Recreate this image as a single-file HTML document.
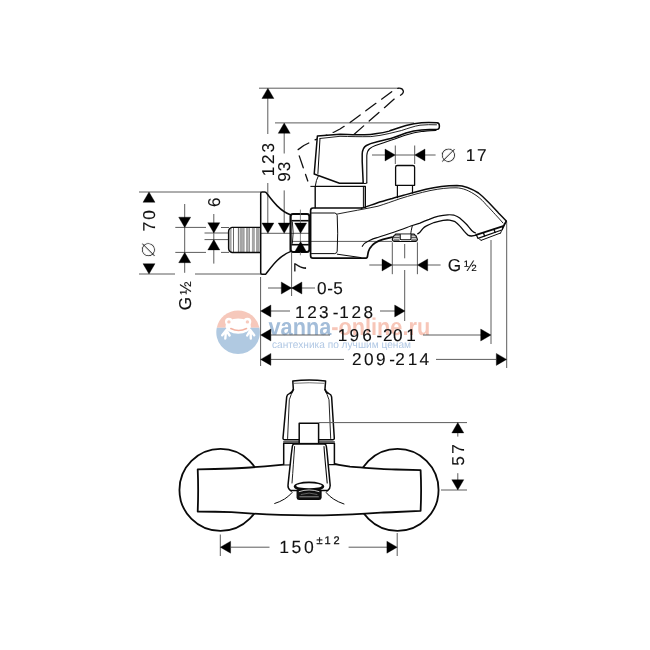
<!DOCTYPE html>
<html lang="ru">
<head>
<meta charset="utf-8">
<title>Смеситель — схема с размерами</title>
<style>
html,body{margin:0;padding:0;background:#fff;}
body{width:650px;height:650px;overflow:hidden;}
svg{display:block;will-change:transform;}
svg text{font-family:"Liberation Sans",sans-serif;text-rendering:geometricPrecision;}
</style>
</head>
<body>
<svg width="650" height="650" viewBox="0 0 650 650">
<rect width="650" height="650" fill="#fff"/>
<g id="wm">
<path d="M216.77,327.8 A21.8,21.8 0 0 1 259.43,327.8 Z" fill="#f6c8bb"/>
<path d="M216.77,327.8 A21.8,21.8 0 1 0 259.43,327.8 Z" fill="#b0c9e1"/>
<g fill="#fff"><ellipse cx="238.2" cy="326.2" rx="12.6" ry="7.6"/><circle cx="228.9" cy="321.6" r="3.9"/><circle cx="247.4" cy="321.6" r="3.9"/></g>
<g stroke="#fff" stroke-width="2.4" stroke-linecap="round" fill="none"><path d="M226.4,330 L222.2,335.3 M226,331 L225.3,338.5 M226.8,331 L229.6,335.5"/><path d="M250.2,330 L254.2,335.3 M250.6,331 L250.8,338.5 M249.8,331 L247.2,335.5"/></g>
<circle cx="228.9" cy="321.9" r="1.7" fill="#f7cabd"/><circle cx="247.4" cy="321.9" r="1.7" fill="#f7cabd"/>
<path d="M230.8,328.5 Q238.6,332.4 246.5,328.5" stroke="#f3b3a3" stroke-width="1.6" fill="none" stroke-linecap="round"/>
<text x="268.5" y="335" font-size="24.3" font-weight="bold" textLength="161.7" lengthAdjust="spacingAndGlyphs"><tspan fill="#a3bdd9">vanna</tspan><tspan fill="#f7c6b8">-online.ru</tspan></text>
<text x="272" y="348.3" font-size="10.5" fill="#b1c8e4" textLength="139" lengthAdjust="spacingAndGlyphs">сантехника по лучшим ценам</text>
</g>
<line x1="259" y1="88.2" x2="399" y2="88.2" stroke="#5c5c5c" stroke-width="1.0" />
<line x1="275" y1="122.9" x2="414" y2="122.9" stroke="#5c5c5c" stroke-width="1.0" />
<line x1="267.8" y1="97" x2="267.8" y2="134" stroke="#5c5c5c" stroke-width="1.0" />
<line x1="267.8" y1="183" x2="267.8" y2="224" stroke="#5c5c5c" stroke-width="1.0" />
<text transform="rotate(-90)" x="-176.19 -163.98 -152.43" y="273.60" font-size="17.2" fill="#111" stroke="#111" stroke-width="0.1">123</text>
<line x1="284.2" y1="132" x2="284.2" y2="153.5" stroke="#5c5c5c" stroke-width="1.0" />
<line x1="284.2" y1="190.4" x2="284.2" y2="224" stroke="#5c5c5c" stroke-width="1.0" />
<text transform="rotate(-90)" x="-181.78 -171.23" y="289.50" font-size="17.2" fill="#111" stroke="#111" stroke-width="0.1">93</text>
<line x1="139" y1="192" x2="261" y2="192" stroke="#5c5c5c" stroke-width="1.0" />
<line x1="139" y1="274" x2="175" y2="274" stroke="#5c5c5c" stroke-width="1.0" />
<line x1="195" y1="274" x2="261" y2="274" stroke="#5c5c5c" stroke-width="1.0" />
<text transform="rotate(-90)" x="-231.29 -219.78" y="154.50" font-size="17.2" fill="#111" stroke="#111" stroke-width="0.1">70</text>
<text transform="translate(148.8 249.6) rotate(-90)" x="0" y="6.62" text-anchor="middle" font-size="26.7" style="font-family:'DejaVu Sans',sans-serif" fill="#2e2e2e" stroke="#fff" stroke-width="0.9">⌀</text>
<line x1="184.7" y1="204" x2="184.7" y2="272.8" stroke="#5c5c5c" stroke-width="1.0" />
<line x1="175.3" y1="227.4" x2="206" y2="227.4" stroke="#5c5c5c" stroke-width="1.0" />
<line x1="175.3" y1="252.4" x2="206" y2="252.4" stroke="#5c5c5c" stroke-width="1.0" />
<text transform="rotate(-90)" x="-310.18" y="190.70" font-size="17.2" fill="#111" stroke="#111" stroke-width="0.1">G</text>
<text transform="rotate(-90)" x="-294.68" y="190.70" font-size="16" fill="#111" stroke="#111" stroke-width="0.1">½</text>
<line x1="213.8" y1="214" x2="213.8" y2="263.6" stroke="#5c5c5c" stroke-width="1.0" />
<line x1="204.5" y1="233" x2="229" y2="233" stroke="#5c5c5c" stroke-width="1.0" />
<line x1="204.5" y1="239.6" x2="229" y2="239.6" stroke="#5c5c5c" stroke-width="1.0" />
<line x1="221" y1="227.5" x2="229" y2="227.5" stroke="#5c5c5c" stroke-width="1.0" />
<line x1="221" y1="252.4" x2="229" y2="252.4" stroke="#5c5c5c" stroke-width="1.0" />
<text transform="rotate(-90)" x="-206.94" y="219.70" font-size="17.2" fill="#111" stroke="#111" stroke-width="0.1">6</text>
<line x1="261" y1="233.3" x2="309" y2="233.3" stroke="#5c5c5c" stroke-width="1.0" />
<line x1="292" y1="241.4" x2="392" y2="241.4" stroke="#5c5c5c" stroke-width="1.0" />
<text transform="rotate(-90)" x="-272.09" y="305.90" font-size="17.2" fill="#111" stroke="#111" stroke-width="0.1">7</text>
<line x1="268" y1="288" x2="315" y2="288" stroke="#5c5c5c" stroke-width="1.0" />
<line x1="291.6" y1="253" x2="291.6" y2="296" stroke="#5c5c5c" stroke-width="1.0" />
<text x="317.02 327.14 333.13" y="293.90" font-size="17.2" fill="#111" stroke="#111" stroke-width="0.1">0-5</text>
<line x1="260.6" y1="277" x2="260.6" y2="366" stroke="#5c5c5c" stroke-width="1.0" />
<line x1="271" y1="311" x2="290" y2="311" stroke="#5c5c5c" stroke-width="1.0" />
<line x1="380" y1="311" x2="395" y2="311" stroke="#5c5c5c" stroke-width="1.0" />
<text x="295.11 307.22 319.07 332.64 339.31 351.42 363.42" y="317.50" font-size="17.2" fill="#111" stroke="#111" stroke-width="0.1">123-128</text>
<line x1="271" y1="335" x2="330" y2="335" stroke="#5c5c5c" stroke-width="1.0" />
<line x1="423" y1="335" x2="481" y2="335" stroke="#5c5c5c" stroke-width="1.0" />
<text x="337.81 349.42 362.26 376.44 383.12 392.92 406.21" y="341.00" font-size="17.2" fill="#111" stroke="#111" stroke-width="0.1">196-201</text>
<line x1="271" y1="359.4" x2="344" y2="359.4" stroke="#5c5c5c" stroke-width="1.0" />
<line x1="436" y1="359.4" x2="496" y2="359.4" stroke="#5c5c5c" stroke-width="1.0" />
<text x="351.92 364.12 376.12 389.14 395.22 407.71 419.47" y="364.90" font-size="17.2" fill="#111" stroke="#111" stroke-width="0.1">209-214</text>
<line x1="404.7" y1="244" x2="404.7" y2="258.3" stroke="#5c5c5c" stroke-width="1.0" />
<line x1="404.7" y1="270" x2="404.7" y2="321" stroke="#5c5c5c" stroke-width="1.0" />
<line x1="491" y1="240" x2="491" y2="344" stroke="#5c5c5c" stroke-width="1.0" />
<line x1="506.7" y1="221.5" x2="506.7" y2="368" stroke="#5c5c5c" stroke-width="1.0" />
<line x1="372" y1="155" x2="385" y2="155" stroke="#5c5c5c" stroke-width="1.0" />
<line x1="425" y1="155" x2="435.6" y2="155" stroke="#5c5c5c" stroke-width="1.0" />
<line x1="395" y1="155" x2="415" y2="155" stroke="#5c5c5c" stroke-width="1.0" />
<line x1="395.3" y1="145.5" x2="395.3" y2="164" stroke="#5c5c5c" stroke-width="1.0" />
<line x1="414.7" y1="145.5" x2="414.7" y2="164" stroke="#5c5c5c" stroke-width="1.0" />
<text transform="translate(448.5 155.3) rotate(0)" x="0" y="6.73" text-anchor="middle" font-size="27.1" style="font-family:'DejaVu Sans',sans-serif" fill="#2e2e2e" stroke="#fff" stroke-width="0.9">⌀</text>
<text x="465.71 477.01" y="160.70" font-size="17.2" fill="#111" stroke="#111" stroke-width="0.1">17</text>
<line x1="369.3" y1="265" x2="383" y2="265" stroke="#5c5c5c" stroke-width="1.0" />
<line x1="427" y1="265" x2="440.6" y2="265" stroke="#5c5c5c" stroke-width="1.0" />
<line x1="392.3" y1="265" x2="417.5" y2="265" stroke="#5c5c5c" stroke-width="1.0" />
<line x1="392.3" y1="242.3" x2="392.3" y2="274.2" stroke="#5c5c5c" stroke-width="1.0" />
<line x1="417.4" y1="242.3" x2="417.4" y2="274.2" stroke="#5c5c5c" stroke-width="1.0" />
<text x="447.72" y="270.70" font-size="17.2" fill="#111" stroke="#111" stroke-width="0.1">G</text>
<text x="464.06" y="270.70" font-size="15.2" fill="#111" stroke="#111" stroke-width="0.1">½</text>
<rect x="229.6" y="227.6" width="2.0" height="24.8" fill="#a4a4a4"/>
<rect x="239.6" y="227.6" width="3.3" height="24.8" fill="#a4a4a4"/>
<rect x="246" y="227.6" width="2.3" height="24.8" fill="#a4a4a4"/>
<rect x="251.9" y="227.6" width="1.3" height="24.8" fill="#a4a4a4"/>
<rect x="256" y="227.6" width="2.0" height="24.8" fill="#a4a4a4"/>
<line x1="233.5" y1="228" x2="233.5" y2="252" stroke="#333" stroke-width="0.75" />
<line x1="238.4" y1="228" x2="238.4" y2="252" stroke="#333" stroke-width="0.75" />
<line x1="243.9" y1="228" x2="243.9" y2="252" stroke="#333" stroke-width="0.75" />
<line x1="249.2" y1="228" x2="249.2" y2="252" stroke="#333" stroke-width="0.75" />
<line x1="254" y1="228" x2="254" y2="252" stroke="#333" stroke-width="0.75" />
<line x1="258.9" y1="228" x2="258.9" y2="252" stroke="#333" stroke-width="0.75" />
<path d="M260.4,227.4 L232,227.4 Q228.6,228.2 228.6,231.6 L228.6,248.2 Q228.6,251.6 232,252.5 L260.4,252.5" stroke="#0a0a0a" stroke-width="1.4" fill="none" stroke-linejoin="round" stroke-linecap="round" />
<path d="M260.7,193.5 Q260.7,192 262,192 L264.6,192 Q265.5,192 266,192.4 C271.5,199.5 279,210.5 290.4,214.8 L290.4,251.6 C279,255.9 271.5,266.9 266,273.8 Q265.5,274.2 264.6,274.2 L262,274.2 Q260.7,274.2 260.7,272.7 Z" stroke="#0a0a0a" stroke-width="1.5" fill="none" stroke-linejoin="round" stroke-linecap="round" />
<path d="M293,214 L307,214 Q309.3,214 309.3,216.4 L309.3,249.6 Q309.3,252 307,252 L293,252 Q290.7,252 290.7,249.6 L290.7,216.4 Q290.7,214 293,214 Z" stroke="#0a0a0a" stroke-width="1.9" fill="none" stroke-linejoin="round" stroke-linecap="round" />
<line x1="291.4" y1="220.7" x2="308.8" y2="220.7" stroke="#0a0a0a" stroke-width="1.6" />
<line x1="291.4" y1="244.7" x2="308.8" y2="244.7" stroke="#0a0a0a" stroke-width="1.6" />
<path d="M292.4,222 Q294,232.7 292.4,243.4" stroke="#0a0a0a" stroke-width="0.9" fill="none" stroke-linejoin="round" stroke-linecap="round" />
<line x1="300.4" y1="209.6" x2="300.4" y2="255.3" stroke="#666" stroke-width="0.8" />
<path d="M361.5,208 L313,208 Q310.6,208 310.6,210.6 L310.6,255.8 Q310.6,258.2 313,258.2 L365,258.2 Q367.2,258.2 367.5,256.3 C367.8,254.5 368,253 368.5,251.2 C369.3,249 370.3,247.3 371.8,245.8 C372.8,244.7 373.8,243.8 375,243 C377.5,241.4 380,240.3 383,239.4 L392.3,237.2" stroke="#0a0a0a" stroke-width="1.7" fill="none" stroke-linejoin="round" stroke-linecap="round" />
<path d="M337.3,254.2 L361,257.6" stroke="#0a0a0a" stroke-width="1.0" fill="none" stroke-linejoin="round" stroke-linecap="round" />
<path d="M311.5,213 L334.8,213 Q337,213.3 337.2,215.5 Q338.2,233 337.2,251.2 Q337,253.3 334.8,253.6 L311.5,253.6" stroke="#0a0a0a" stroke-width="1.0" fill="none" stroke-linejoin="round" stroke-linecap="round" />
<path d="M361.5,208.2 C366,207.2 371,205 377,203 C382,201.4 387,200 392.3,198.5 C397,197.1 401,196 406,194.6 C412,192.9 419,191 426,189.2 C436,186.8 446,185.5 457,185.4 C463,185.5 470,187.5 478.5,193 C483,196.5 486,199.8 489.2,203 C493,207 496,210.3 498.5,213 C502,216.5 504,218.6 506.3,221 L502.6,228.5" stroke="#0a0a0a" stroke-width="1.5" fill="none" stroke-linejoin="round" stroke-linecap="round" />
<path d="M337.5,214 C350,211.5 365,209 378,206.2 C385,204 392,201.5 400,198.7 C410,195.5 420,192.8 430,190.6 C440,188.6 448,187.7 456,187.8 C463,188 469,190.5 477,196 C481,199 484,202 486,204.6 C490,208.5 493,212 495.4,214.6 C498,217.5 501,220.5 503,223" stroke="#0a0a0a" stroke-width="0.9" fill="none" stroke-linejoin="round" stroke-linecap="round" />
<path d="M362.3,246.3 C364,243.5 366,242 368.5,241 C372,239.3 374,238.5 377,237.7 C385,235 392,233 400,230 C404,228.6 407,227.4 410.8,226 L420,223.1 C423,221.8 426,220.6 429.2,219.4 C432,218.2 435,217 438.5,216.2 C441.5,215.4 444.5,214.9 447.7,214.8 C450,214.7 452.2,214.7 454.2,215.2 C456.2,215.8 458,216.6 459.7,218 C462,220 464,221.8 466.2,224 C468,226 470,228.6 471.7,230.5 C473,231.8 474,232.6 475.4,232.8" stroke="#0a0a0a" stroke-width="1.2" fill="none" stroke-linejoin="round" stroke-linecap="round" />
<path d="M417.7,233.8 C419.5,233 421,231.2 422.8,228.6 C424,227.2 425,226.6 426.5,225.9 C429,224.4 431.5,223.5 433.9,222.6 C437,221.6 440,220.8 443.1,220.3 C445.3,220 447.4,219.9 449.5,220.1 C451.5,220.4 453.3,220.8 455.1,221.7 C456.8,222.8 458.2,224.2 459.7,225.9 C461.3,227.6 462.8,229.5 464.3,231.4 C465.5,232.8 466.7,234.2 468,235.1 C469.2,235.8 470.4,236.1 471.7,236 C473.2,235.9 474.7,235.6 476.3,235.1" stroke="#0a0a0a" stroke-width="1.3" fill="none" stroke-linejoin="round" stroke-linecap="round" />
<path d="M503.2,226.2 L476.2,234.8" stroke="#0a0a0a" stroke-width="1.9" fill="none" stroke-linejoin="round" stroke-linecap="round" />
<path d="M506.3,221.2 L503.2,226.4" stroke="#0a0a0a" stroke-width="1.3" fill="none" stroke-linejoin="round" stroke-linecap="round" />
<path d="M476.4,235 L478,238.4 L502.4,229.8 L502.8,226.6" stroke="#0a0a0a" stroke-width="1.2" fill="none" stroke-linejoin="round" stroke-linecap="round" />
<path d="M481.2,240.3 L500.6,233" stroke="#0a0a0a" stroke-width="1.0" fill="none" stroke-linejoin="round" stroke-linecap="round" />
<path d="M479.5,239.2 L481.2,240.3 M500.6,233 L501.6,230.6" stroke="#0a0a0a" stroke-width="0.9" fill="none" stroke-linejoin="round" stroke-linecap="round" />
<path d="M483.4,232.8 L484.6,236 M494,229.4 L495.2,232.4" stroke="#0a0a0a" stroke-width="1.3" fill="none" stroke-linejoin="round" stroke-linecap="round" />
<path d="M412.3,226 C411.5,229 411,231.5 410.8,233.8" stroke="#0a0a0a" stroke-width="1.0" fill="none" stroke-linejoin="round" stroke-linecap="round" />
<path d="M395.6,234.2 L414.2,234.2 Q416.4,235.6 417.4,239.4 Q417.2,241.2 415.6,241.5 L394.2,241.5 Q392.5,241.2 392.3,239.4 Q393.4,235.6 395.6,234.2 Z" stroke="#0a0a0a" stroke-width="1.2" fill="#fff" stroke-linejoin="round" stroke-linecap="round" />
<line x1="393.6" y1="235.8" x2="399.6" y2="235.8" stroke="#333" stroke-width="0.8" />
<line x1="411.2" y1="235.8" x2="416.6" y2="235.8" stroke="#333" stroke-width="0.8" />
<line x1="393.6" y1="237.5" x2="399.6" y2="237.5" stroke="#333" stroke-width="0.8" />
<line x1="411.2" y1="237.5" x2="416.6" y2="237.5" stroke="#333" stroke-width="0.8" />
<line x1="393.6" y1="239.2" x2="399.6" y2="239.2" stroke="#333" stroke-width="0.8" />
<line x1="411.2" y1="239.2" x2="416.6" y2="239.2" stroke="#333" stroke-width="0.8" />
<line x1="393.6" y1="240.6" x2="399.6" y2="240.6" stroke="#333" stroke-width="0.8" />
<line x1="411.2" y1="240.6" x2="416.6" y2="240.6" stroke="#333" stroke-width="0.8" />
<path d="M400.2,234.6 L400.2,238.6 Q400.2,239.8 401.4,239.8 L409.8,239.8 Q411,239.8 411,238.6 L411,234.6" stroke="#0a0a0a" stroke-width="1.1" fill="#fff" stroke-linejoin="round" stroke-linecap="round" />
<path d="M391.7,91.7 L349.2,123.1 L340,129 L334.3,132 L314,140.3 L303.8,145.5 L297.3,150.2 L307.8,181" stroke="#111" stroke-width="1.3" fill="none" stroke-linejoin="round" stroke-linecap="round" stroke-dasharray="12.6 7" stroke-linecap="butt"/>
<path d="M394.2,99.1 L354.2,134.2" stroke="#111" stroke-width="1.3" fill="none" stroke-linejoin="round" stroke-linecap="round" stroke-dasharray="13 7.3" stroke-linecap="butt"/>
<path d="M397.8,88.3 Q402.4,87.6 403.4,91.2 Q403.7,93.6 400.5,95.3" stroke="#111" stroke-width="1.3" fill="none" stroke-linejoin="round" stroke-linecap="round" />
<line x1="310.4" y1="186.4" x2="315" y2="186.4" stroke="#111" stroke-width="1.1" />
<path d="M315.2,207.7 L315.2,186.4 L365.3,186.4 L365.3,207.7" stroke="#0a0a0a" stroke-width="1.4" fill="none" stroke-linejoin="round" stroke-linecap="round" />
<path d="M363.4,187 L363.4,207.5" stroke="#0a0a0a" stroke-width="1.0" fill="none" stroke-linejoin="round" stroke-linecap="round" />
<path d="M317.4,135.9 L314.2,174 L339.5,183.2 L363.2,183.2 L362.2,161.5 L362.2,154 C362.4,149.5 364,147 366.4,145.5 C369,144 372,142.9 375.4,142.2 C380,141 386,139.8 390.8,138.5 C396,137 401,135 406,133 C411,131.5 416,130.5 421.5,130 C427,129.5 432,129.3 437.5,129.3 Q439.4,129.2 439.4,126 Q439.4,122.9 437,122.8 C432,122.6 427,122.5 421.5,122.8 C416,123.3 411,124.2 406,125.4 C401,126.7 395,129 389.2,131.1 C385,132.4 381,133.2 377,133.5 C373,134.2 369,134.7 364.6,134.8 C356,134.7 348,134.4 340,134.2 Z" stroke="#0a0a0a" stroke-width="1.5" fill="#fff" stroke-linejoin="round" stroke-linecap="round" />
<path d="M320,138.5 L317.9,173.5" stroke="#0a0a0a" stroke-width="1.0" fill="none" stroke-linejoin="round" stroke-linecap="round" />
<path d="M320,138.5 L340,136.3 C350,136.6 360,136.8 370.8,136.6 C377,136 383,135 389.2,133.5 C393,132.6 397,131.6 401.5,130.5 C408,128.4 414,126.2 420,125.2 C426,124.6 431,124.6 436.5,124.8" stroke="#0a0a0a" stroke-width="0.9" fill="none" stroke-linejoin="round" stroke-linecap="round" />
<path d="M366.8,183 L366.8,155.5 C367,152 368,150 369.6,148.7 C371.5,147.3 373,146.5 375.4,145.6 C380,144 386,142 390.8,140.3 C396,138.7 401,136.7 406,135 C411,133.5 416,132.2 421.5,131.5 C427,131 431,130.6 436,130.4" stroke="#0a0a0a" stroke-width="1.1" fill="none" stroke-linejoin="round" stroke-linecap="round" />
<path d="M363.2,183.2 Q365,184.4 366.8,183" stroke="#0a0a0a" stroke-width="1.0" fill="none" stroke-linejoin="round" stroke-linecap="round" />
<path d="M318.5,175.6 Q316,180 315.2,186.4" stroke="#0a0a0a" stroke-width="1.0" fill="none" stroke-linejoin="round" stroke-linecap="round" />
<path d="M395.6,185.3 L395.6,167.3 Q395.6,165.5 397.4,165.5 L412.8,165.5 Q414.6,165.5 414.6,167.3 L414.6,185.3 Z" stroke="#0a0a0a" stroke-width="1.3" fill="none" stroke-linejoin="round" stroke-linecap="round" />
<path d="M397.4,185.5 L397.4,197.7 M412.5,185.5 L412.5,193" stroke="#0a0a0a" stroke-width="1.2" fill="none" stroke-linejoin="round" stroke-linecap="round" />
<circle cx="220.5" cy="489.9" r="41.05" fill="none" stroke="#0a0a0a" stroke-width="1.8"/>
<circle cx="397.5" cy="489.9" r="41.05" fill="none" stroke="#0a0a0a" stroke-width="1.8"/>
<path d="M197.7,469.3 C210,469.3 221,469 231.5,468.5 C238,468.2 244,467.9 250,467.5 C256,467 261,466.6 265,466.3 C272,465.7 278,465.1 283.7,464.6 L334.4,464 C337,464.4 343,465.6 350,466.7 C355,467.2 360,467.5 365,467.8 C371,468.2 376,468.5 381,468.8 C386,469.1 391,469.3 396,469.5 C404,469.8 412,470 420.6,470.2 Q421.6,490 420.6,510.9 C412,511.3 404,511.7 396.2,512 C391,512.2 386,512.4 380.8,512.7 C376,513 371,513.3 365.4,513.6 C348,514.8 328,515.4 309,515.4 C290,515.4 270,514.8 252.6,513.6 C245,513.1 238,512.5 231.5,512.1 C221,511.7 210,511.5 197.7,511.5 Q198.6,490 197.7,469.3 Z" stroke="#0a0a0a" stroke-width="1.8" fill="#fff" stroke-linejoin="round" stroke-linecap="round" />
<path d="M283.7,464.6 L283.7,443.3 L334.4,443.3 L334.4,464" stroke="#0a0a0a" stroke-width="1.5" fill="#fff" stroke-linejoin="round" stroke-linecap="round" />
<path d="M292.8,381 Q309.2,379.2 325.6,381 L325,389 Q325.6,392.5 329,393.6 Q331.3,394.4 331.6,396.8 L334.3,438 Q334.4,439.7 332.6,439.7 L284.7,439.7 Q282.9,439.7 283,438 L286.7,396.8 Q287,394.4 289.3,393.6 Q292.7,392.5 293.3,389 Z" stroke="#0a0a0a" stroke-width="1.5" fill="#fff" stroke-linejoin="round" stroke-linecap="round" />
<path d="M294.3,383.3 Q309.2,382.2 324.1,383.3" stroke="#777" stroke-width="1.0" fill="none" stroke-linejoin="round" stroke-linecap="round" />
<path d="M293.7,389.5 Q291,394 289.3,399.8 L287.6,438.5" stroke="#0a0a0a" stroke-width="0.9" fill="none" stroke-linejoin="round" stroke-linecap="round" />
<path d="M324.6,389.5 Q327.3,394 329,399.8 L330.7,438.5" stroke="#0a0a0a" stroke-width="0.9" fill="none" stroke-linejoin="round" stroke-linecap="round" />
<path d="M283.6,441.8 L334.4,441.8" stroke="#333" stroke-width="1.2" fill="none" stroke-linejoin="round" stroke-linecap="round" />
<path d="M299.2,442.8 L299.2,423.2 L318.6,423.2 L318.6,442.8" stroke="#0a0a0a" stroke-width="1.5" fill="#fff" stroke-linejoin="round" stroke-linecap="round" />
<path d="M294.2,443.9 L324.4,443.9 Q326,444 326.3,446 C327.2,452 327.6,458 328.2,464.6 C329,472 329.6,479 330.2,485.6 Q330.3,488.6 327.6,490.6 L290.6,490.6 Q287.8,488.6 288,485.6 C288.6,479 289.4,472 290.2,464.6 C290.8,458 291.5,452 292.4,446 Q292.7,444 294.2,443.9 Z" stroke="#0a0a0a" stroke-width="1.5" fill="#fff" stroke-linejoin="round" stroke-linecap="round" />
<path d="M294.6,446.5 C293.8,458 293,470 292,483" stroke="#0a0a0a" stroke-width="0.9" fill="none" stroke-linejoin="round" stroke-linecap="round" />
<path d="M324,446.5 C324.8,458 326,470 327.2,483" stroke="#0a0a0a" stroke-width="1.1" fill="none" stroke-linejoin="round" stroke-linecap="round" />
<path d="M290.6,490.4 C291,491.4 291.6,492 292.2,492.4 C288,497.5 282,501.2 274.7,503.5" stroke="#0a0a0a" stroke-width="1.0" fill="none" stroke-linejoin="round" stroke-linecap="round" />
<path d="M327.6,490.4 C327.2,491.4 326.6,492 326,492.4 C330.2,497.5 336.4,501.5 344,504" stroke="#0a0a0a" stroke-width="1.0" fill="none" stroke-linejoin="round" stroke-linecap="round" />
<path d="M297.2,490.5 L321,490.5 L321,497.6 Q320.8,499.3 319,499.3 L299.2,499.3 Q297.4,499.3 297.2,497.6 Z" stroke="#0a0a0a" stroke-width="1.3" fill="#111" stroke-linejoin="round" stroke-linecap="round" />
<ellipse cx="309" cy="486.6" rx="15.2" ry="5" fill="#0a0a0a"/>
<ellipse cx="309" cy="485.7" rx="12.8" ry="2.5" fill="#fff"/>
<path d="M299.2,491.6 Q309.1,488.2 319,491.6" stroke="#ddd" stroke-width="0.9" fill="none" stroke-linejoin="round" stroke-linecap="round" />
<path d="M301.2,494.4 Q309.1,491.6 317,494.4" stroke="#777" stroke-width="0.8" fill="none" stroke-linejoin="round" stroke-linecap="round" />
<path d="M299.8,496.8 L318.4,496.8" stroke="#8a8a8a" stroke-width="1.0" fill="none" stroke-linejoin="round" stroke-linecap="round" />
<line x1="319" y1="422.6" x2="467" y2="422.6" stroke="#5c5c5c" stroke-width="1.0" />
<line x1="441" y1="490" x2="467" y2="490" stroke="#5c5c5c" stroke-width="1.0" />
<line x1="457.8" y1="433" x2="457.8" y2="436.6" stroke="#5c5c5c" stroke-width="1.0" />
<line x1="457.8" y1="473.2" x2="457.8" y2="480" stroke="#5c5c5c" stroke-width="1.0" />
<text transform="rotate(-90)" x="-465.77 -453.69" y="463.50" font-size="17.2" fill="#111" stroke="#111" stroke-width="0.1">57</text>
<line x1="220.3" y1="534.5" x2="220.3" y2="556" stroke="#5c5c5c" stroke-width="1.0" />
<line x1="397.2" y1="533" x2="397.2" y2="556" stroke="#5c5c5c" stroke-width="1.0" />
<line x1="231" y1="547.2" x2="269.5" y2="547.2" stroke="#5c5c5c" stroke-width="1.0" />
<line x1="348.6" y1="547.2" x2="387" y2="547.2" stroke="#5c5c5c" stroke-width="1.0" />
<text x="279.20 291.62 303.91" y="553.10" font-size="17.6" fill="#111" stroke="#111" stroke-width="0.1">150</text>
<text x="316.58 324.41 333.44" y="544.30" font-size="11" fill="#111" stroke="#111" stroke-width="0.3">±12</text>
<polygon points="267.9,88.2 261.9,98.5 273.9,98.5" fill="#000" stroke="#000" stroke-width="0.35" stroke-linejoin="miter"/>
<polygon points="267.9,233.3 261.9,223.0 273.9,223.0" fill="#000" stroke="#000" stroke-width="0.35" stroke-linejoin="miter"/>
<polygon points="284.2,123.0 278.2,133.3 290.2,133.3" fill="#000" stroke="#000" stroke-width="0.35" stroke-linejoin="miter"/>
<polygon points="284.2,233.3 278.2,223.0 290.2,223.0" fill="#000" stroke="#000" stroke-width="0.35" stroke-linejoin="miter"/>
<polygon points="149.0,192.0 143.0,202.3 155.0,202.3" fill="#000" stroke="#000" stroke-width="0.35" stroke-linejoin="miter"/>
<polygon points="149.0,274.0 143.0,263.7 155.0,263.7" fill="#000" stroke="#000" stroke-width="0.35" stroke-linejoin="miter"/>
<polygon points="184.7,227.5 178.7,217.2 190.7,217.2" fill="#000" stroke="#000" stroke-width="0.35" stroke-linejoin="miter"/>
<polygon points="184.7,252.4 178.7,262.7 190.7,262.7" fill="#000" stroke="#000" stroke-width="0.35" stroke-linejoin="miter"/>
<polygon points="213.8,233.0 207.8,222.7 219.8,222.7" fill="#000" stroke="#000" stroke-width="0.35" stroke-linejoin="miter"/>
<polygon points="213.8,239.6 207.8,249.9 219.8,249.9" fill="#000" stroke="#000" stroke-width="0.35" stroke-linejoin="miter"/>
<polygon points="300.6,233.3 294.6,223.0 306.6,223.0" fill="#000" stroke="#000" stroke-width="0.35" stroke-linejoin="miter"/>
<polygon points="300.6,241.6 294.6,251.9 306.6,251.9" fill="#000" stroke="#000" stroke-width="0.35" stroke-linejoin="miter"/>
<polygon points="291.6,288.0 281.3,282.0 281.3,294.0" fill="#000" stroke="#000" stroke-width="0.35" stroke-linejoin="miter"/>
<polygon points="291.6,288.0 301.9,282.0 301.9,294.0" fill="#000" stroke="#000" stroke-width="0.35" stroke-linejoin="miter"/>
<polygon points="260.6,311.0 270.9,305.0 270.9,317.0" fill="#000" stroke="#000" stroke-width="0.35" stroke-linejoin="miter"/>
<polygon points="260.6,335.0 270.9,329.0 270.9,341.0" fill="#000" stroke="#000" stroke-width="0.35" stroke-linejoin="miter"/>
<polygon points="260.6,359.4 270.9,353.4 270.9,365.4" fill="#000" stroke="#000" stroke-width="0.35" stroke-linejoin="miter"/>
<polygon points="405.0,311.0 394.7,305.0 394.7,317.0" fill="#000" stroke="#000" stroke-width="0.35" stroke-linejoin="miter"/>
<polygon points="491.0,335.0 480.7,329.0 480.7,341.0" fill="#000" stroke="#000" stroke-width="0.35" stroke-linejoin="miter"/>
<polygon points="506.6,359.4 496.3,353.4 496.3,365.4" fill="#000" stroke="#000" stroke-width="0.35" stroke-linejoin="miter"/>
<polygon points="395.3,155.0 385.0,149.0 385.0,161.0" fill="#000" stroke="#000" stroke-width="0.35" stroke-linejoin="miter"/>
<polygon points="414.7,155.0 425.0,149.0 425.0,161.0" fill="#000" stroke="#000" stroke-width="0.35" stroke-linejoin="miter"/>
<polygon points="392.3,265.0 382.0,259.0 382.0,271.0" fill="#000" stroke="#000" stroke-width="0.35" stroke-linejoin="miter"/>
<polygon points="417.4,265.0 427.7,259.0 427.7,271.0" fill="#000" stroke="#000" stroke-width="0.35" stroke-linejoin="miter"/>
<polygon points="457.8,422.6 451.8,432.9 463.8,432.9" fill="#000" stroke="#000" stroke-width="0.35" stroke-linejoin="miter"/>
<polygon points="457.8,490.0 451.8,479.7 463.8,479.7" fill="#000" stroke="#000" stroke-width="0.35" stroke-linejoin="miter"/>
<polygon points="220.3,547.2 230.6,541.2 230.6,553.2" fill="#000" stroke="#000" stroke-width="0.35" stroke-linejoin="miter"/>
<polygon points="397.2,547.2 386.9,541.2 386.9,553.2" fill="#000" stroke="#000" stroke-width="0.35" stroke-linejoin="miter"/>
</svg>
</body>
</html>
